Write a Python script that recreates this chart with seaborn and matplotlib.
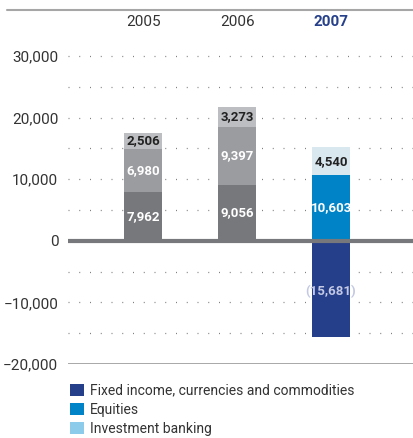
import matplotlib
matplotlib.use("Agg")
import matplotlib.pyplot as plt
from matplotlib.lines import Line2D
from matplotlib.patches import Patch
import seaborn as sns
import pandas as pd

# Net revenues by segment
years = ["2005", "2006", "2007"]
ficc = [7962, 9056, -15681]
equities = [6980, 9397, 10603]
investment_banking = [2506, 3273, 4540]

ficc_labels = ["7,962", "9,056", "(15,681)"]
equities_labels = ["6,980", "9,397", "10,603"]
ib_labels = ["2,506", "3,273", "4,540"]

yticks = [-20000, -10000, 0, 10000, 20000, 30000]
ytick_labels = ["\u221220,000", "\u221210,000", "0", "10,000", "20,000", "30,000"]
legend_labels = ["Fixed income, currencies and commodities", "Equities", "Investment banking"]

# Colours: grey shades for earlier years, house blues for the latest year
ficc_colors = {"2005": "#77787c", "2006": "#77787c", "2007": "#263f8a"}
eq_colors = {"2005": "#9b9ca0", "2006": "#9b9ca0", "2007": "#0083c7"}
ib_colors = {"2005": "#bdbec1", "2006": "#bdbec1", "2007": "#d9e7ef"}
legend_colors = ["#263f8a", "#0083c7", "#8ccbea"]

sns.set_theme(style="white")
plt.rcParams["font.family"] = ["Roboto", "DejaVu Sans"]

df = pd.DataFrame({
    "year": years,
    "ficc": ficc,
    "equities": equities,
    "ib": investment_banking,
})
# Positive stack tops: FICC only stacks when positive
df["pos_base"] = [max(v, 0) for v in df["ficc"]]
df["eq_top"] = df["pos_base"] + df["equities"]
df["ib_top"] = df["eq_top"] + df["ib"]

fig = plt.figure(figsize=(4.13, 4.38), dpi=100)
ax = fig.add_axes([0.1646, 0.169, 0.835, 0.7455])

bar_w = 0.404
common = dict(x="year", hue="year", width=bar_w, legend=False, ax=ax,
              linewidth=0, saturation=1, zorder=2)
sns.barplot(data=df, y="ib_top", palette=ib_colors, **common)
sns.barplot(data=df, y="eq_top", palette=eq_colors, **common)
sns.barplot(data=df, y="ficc", palette=ficc_colors, **common)

ax.set_xlim(-0.80, 2.87)
ax.set_ylim(-20000, 33000)

# Dotted gridlines
for g in [-15000, -10000, -5000, 5000, 10000, 15000, 20000, 25000, 30000]:
    ax.axhline(g, color="#808080", lw=0.9, linestyle=(0, (0.8, 7.8)), zorder=1)
ax.axhline(0, color="#77787c", lw=3.0, zorder=3)
ax.axhline(-20000, color="#9a9a9a", lw=1.2, zorder=3)

ax.set_yticks(yticks)
ax.set_yticklabels(ytick_labels, fontsize=11, color="#333333")
ax.tick_params(axis="y", length=0, pad=7)
ax.set_xticks([])
ax.set_xlabel("")
ax.set_ylabel("")
for s in ax.spines.values():
    s.set_visible(False)

# Year headings above the bars
for i, yr in enumerate(years):
    last = i == len(years) - 1
    ax.text(i, 1.048, yr, transform=ax.get_xaxis_transform(),
            ha="center", va="center", fontsize=11,
            fontweight="bold" if last else "normal",
            color="#26408a" if last else "#333333")

# Segment value labels
lab = dict(ha="center", va="center", fontsize=9.5, fontweight="bold", zorder=4)
for i in range(len(years)):
    f = df["ficc"][i]
    ax.text(i, f / 2 if f > 0 else -8300, ficc_labels[i],
            color="white" if f > 0 else "#c3c9e4", **lab)
    base = df["pos_base"][i]
    ax.text(i, base + df["equities"][i] / 2, equities_labels[i], color="white", **lab)
    ax.text(i, df["eq_top"][i] + df["ib"][i] / 2, ib_labels[i], color="#222222", **lab)

# Rule across the top
fig.add_artist(Line2D([7 / 413, 1.0], [1 - 10 / 438, 1 - 10 / 438],
                      color="#a6a6a6", lw=1.5))

handles = [Patch(facecolor=c, edgecolor="none") for c in legend_colors]
fig.legend(handles, legend_labels, loc="upper left",
           bbox_to_anchor=(67 / 413, 1 - 381 / 438), frameon=False,
           fontsize=10, handlelength=1.0, handleheight=1.0, handletextpad=0.45,
           labelspacing=0.35, borderaxespad=0, borderpad=0.2,
           labelcolor="#333333")

fig.savefig("out.png", dpi=100)
